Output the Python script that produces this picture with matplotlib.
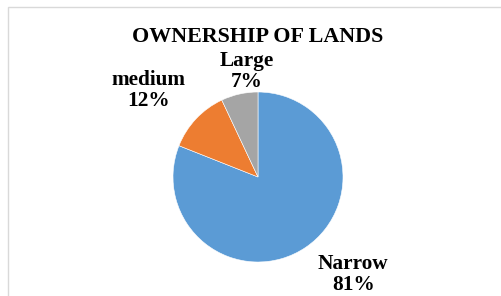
import matplotlib
matplotlib.use("Agg")
import matplotlib.pyplot as plt
from matplotlib.patches import Rectangle

categories = ["Narrow", "medium", "Large"]
shares = [81, 12, 7]
colors = ["#5B9BD5", "#ED7D31", "#A5A5A5"]
title = "OWNERSHIP OF LANDS"

# label anchor positions (layout, in pie-radius units)
label_pos = [(1.12, -1.15), (-1.29, 1.02), (-0.13, 1.24)]

W, H = 501, 296
fig = plt.figure(figsize=(W / 100, H / 100), dpi=100)
fig.patch.set_facecolor("white")

# outer chart border
fig.add_artist(Rectangle((8 / W, -0.1), 1.2, (H - 7) / H + 0.1,
                         transform=fig.transFigure, fill=False,
                         edgecolor="#d9d9d9", linewidth=1.0))

cx, cy, r = 258, 177, 85
ax = fig.add_axes([(cx - r) / W, (H - cy - r) / H, 2 * r / W, 2 * r / H])
ax.pie(shares, colors=colors, startangle=90, counterclock=False,
       wedgeprops=dict(linewidth=0.4, edgecolor="white"))
ax.set_xlim(-1, 1)
ax.set_ylim(-1, 1)
ax.axis("off")

font = dict(family="Liberation Serif", fontweight="bold")
for name, val, (lx, ly) in zip(categories, shares, label_pos):
    ax.text(lx, ly, f"{name}\n{val}%", ha="center", va="center",
            fontsize=15.3, linespacing=1.05, **font)

fig.text(258 / W, 1 - 37 / H, title, ha="center", va="center",
         fontsize=15.8, **font)

fig.savefig("out.png", dpi=100, facecolor="white")
